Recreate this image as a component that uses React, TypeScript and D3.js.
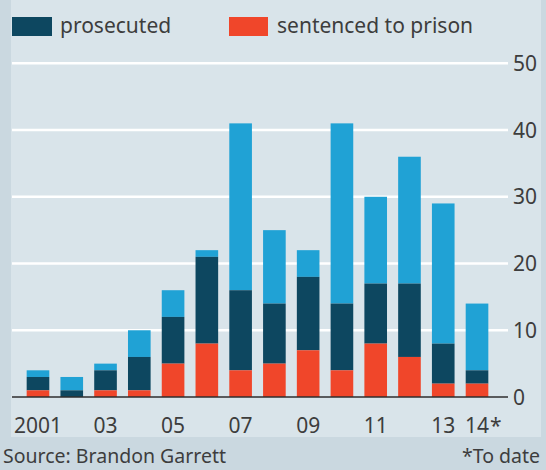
import React from "react";
import * as d3 from "d3";

const years = ["2001","2002","2003","2004","2005","2006","2007","2008","2009","2010","2011","2012","2013","2014"];
const xTickLabels: Record<string, string> = { "2001": "2001", "2003": "03", "2005": "05", "2007": "07", "2009": "09", "2011": "11", "2013": "13", "2014": "14" };
// stacked levels (cumulative totals)
const sentenced = [1, 0, 1, 1, 5, 8, 4, 5, 7, 4, 8, 6, 2, 2];
const prosecuted = [3, 1, 4, 6, 12, 21, 16, 14, 18, 14, 17, 17, 8, 4];
const total = [4, 3, 5, 10, 16, 22, 41, 25, 22, 41, 30, 36, 29, 14];
const yTicks = [0, 10, 20, 30, 40, 50];

const W = 546, H = 470;
const BG = "#d9e4ea";
const EDGE = "#cad8e0";
const LIGHT = "#20a2d5";
const DARK = "#0d4760";
const RED = "#f0462a";
const TEXT = "#3d3d3d";
const FONT = "'Noto Sans', 'Open Sans', sans-serif";

export default function App() {
  const x = d3.scaleBand<string>().domain(years).range([21.1, 493.9]).paddingInner(0.33).paddingOuter(0.165);
  const y = d3.scaleLinear().domain([0, 50]).range([397, 63.3]);
  const bw = x.bandwidth();
  const gx0 = 12, gx1 = 508;

  return (
    <svg width={W} height={H} style={{ position: "absolute", left: 0, top: 0 }} fontFamily={FONT}>
      <rect x={0} y={0} width={W} height={H} fill={BG} />
      <rect x={0} y={0} width={11} height={H} fill={EDGE} />
      <rect x={541} y={0} width={5} height={H} fill={EDGE} />
      <rect x={0} y={437} width={W} height={H - 437} fill={EDGE} />

      {/* legend */}
      <rect x={12} y={17} width={40} height={19} fill={DARK} />
      <text x={60} y={33} fontSize={21} fill={TEXT}>prosecuted</text>
      <rect x={229} y={17} width={39} height={19} fill={RED} />
      <text x={277} y={33} fontSize={21} fill={TEXT}>sentenced to prison</text>

      {/* gridlines */}
      {yTicks.filter(t => t > 0).map(t => (
        <line key={t} x1={gx0} x2={gx1} y1={y(t)} y2={y(t)} stroke="#ffffff" strokeWidth={2.5} />
      ))}

      {/* bars */}
      {years.map((yr, i) => {
        const bx = x(yr)!;
        return (
          <g key={yr}>
            <rect x={bx} width={bw} y={y(total[i])} height={y(prosecuted[i]) - y(total[i])} fill={LIGHT} />
            <rect x={bx} width={bw} y={y(prosecuted[i])} height={y(sentenced[i]) - y(prosecuted[i])} fill={DARK} />
            <rect x={bx} width={bw} y={y(sentenced[i])} height={y(0) - y(sentenced[i])} fill={RED} />
          </g>
        );
      })}

      {/* baseline */}
      <line x1={gx0} x2={gx1} y1={y(0)} y2={y(0)} stroke="#2e2e2e" strokeWidth={1.6} />

      {/* y labels */}
      {yTicks.map(t => (
        <text key={t} x={513} y={y(t) + 7.5} fontSize={21} fill={TEXT}>{t}</text>
      ))}

      {/* x labels */}
      {years.filter(yr => xTickLabels[yr]).map(yr => {
        const cx = x(yr)! + bw / 2;
        const lbl = xTickLabels[yr];
        return (
          <g key={yr}>
            <text x={cx} y={433} fontSize={21} fill={TEXT} textAnchor="middle">{lbl}</text>
            {yr === "2014" && <text x={cx + 13} y={433} fontSize={21} fill={TEXT}>*</text>}
          </g>
        );
      })}

      {/* footer */}
      <text x={3} y={463} fontSize={19.5} fill={TEXT}>Source: Brandon Garrett</text>
      <text x={540} y={463} fontSize={19.5} fill={TEXT} textAnchor="end">*To date</text>
    </svg>
  );
}
